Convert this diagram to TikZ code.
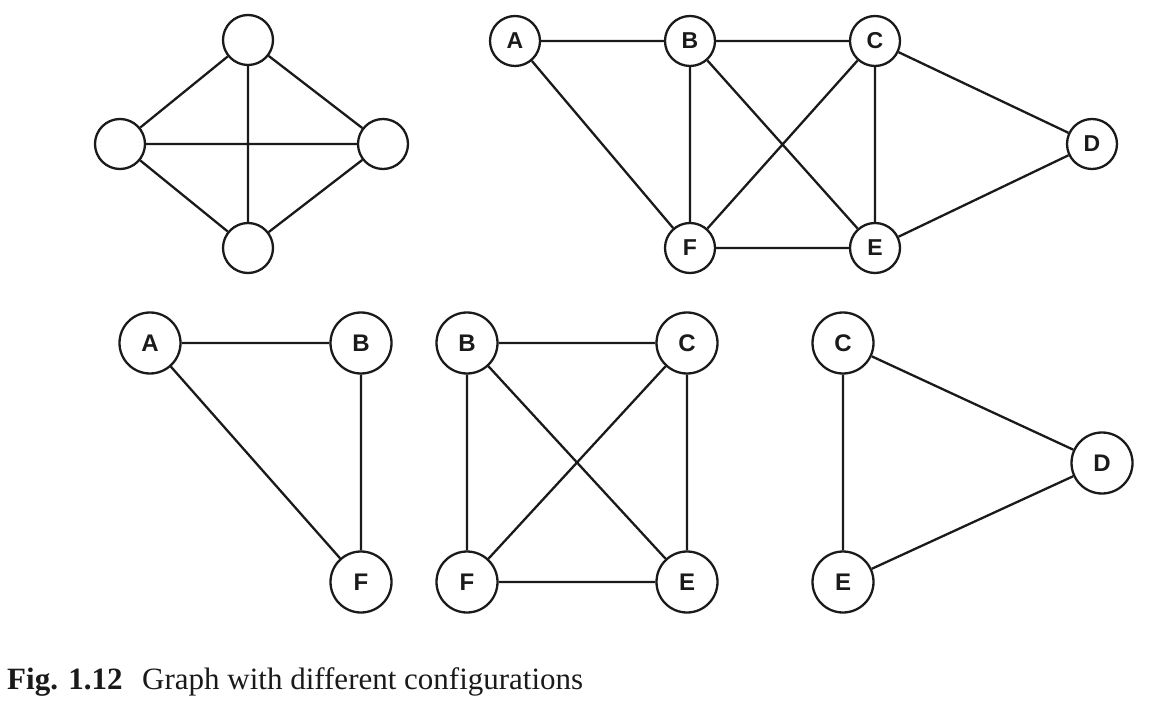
\documentclass[tikz,border=0pt]{standalone}
\usepackage{fontspec}
\setmainfont{Liberation Serif}
\newfontfamily\nodefont{Liberation Sans}
\begin{document}
\begin{tikzpicture}[x=1pt,y=-1pt,
  vsmall/.style={circle,draw=ink,line width=2.3pt,minimum size=50pt,inner sep=0pt,font=\nodefont\bfseries\fontsize{23pt}{23pt}\selectfont,text=ink},
  vbig/.style={circle,draw=ink,line width=2.3pt,minimum size=61pt,inner sep=0pt,font=\nodefont\bfseries\fontsize{24pt}{24pt}\selectfont,text=ink},
  edge/.style={draw=ink,line width=2.3pt}]
\definecolor{ink}{HTML}{1A1A1A}
\useasboundingbox (0,0) rectangle (1150,708);
% top-left K4
\node[vsmall] (kt) at (248,40) {};
\node[vsmall] (kl) at (120,144) {};
\node[vsmall] (kr) at (383,144) {};
\node[vsmall] (kb) at (248,248) {};
\draw[edge] (kt)--(kl) (kt)--(kr) (kt)--(kb) (kl)--(kr) (kl)--(kb) (kr)--(kb);
% top-right graph
\node[vsmall] (a1) at (515,41) {A};
\node[vsmall] (b1) at (690,41) {B};
\node[vsmall] (c1) at (875,41) {C};
\node[vsmall] (d1) at (1092,144) {D};
\node[vsmall] (f1) at (690,248) {F};
\node[vsmall] (e1) at (875,248) {E};
\draw[edge] (a1)--(b1) (a1)--(f1) (b1)--(c1) (b1)--(f1) (b1)--(e1)
  (c1)--(f1) (c1)--(e1) (c1)--(d1) (d1)--(e1) (f1)--(e1);
% bottom-left triangle
\node[vbig] (a2) at (150,343) {A};
\node[vbig] (b2) at (361,343) {B};
\node[vbig] (f2) at (361,582) {F};
\draw[edge] (a2)--(b2) (a2)--(f2) (b2)--(f2);
% bottom-middle K4
\node[vbig] (b3) at (467,343) {B};
\node[vbig] (c3) at (687,343) {C};
\node[vbig] (f3) at (467,582) {F};
\node[vbig] (e3) at (687,582) {E};
\draw[edge] (b3)--(c3) (b3)--(f3) (b3)--(e3) (c3)--(f3) (c3)--(e3) (f3)--(e3);
% bottom-right triangle
\node[vbig] (c4) at (843,343) {C};
\node[vbig] (d4) at (1102,463) {D};
\node[vbig] (e4) at (843,582) {E};
\draw[edge] (c4)--(d4) (c4)--(e4) (d4)--(e4);
% caption
\node[anchor=base west,inner sep=0pt,font=\fontsize{31pt}{31pt}\selectfont\bfseries,text=ink] (figlbl) at (7,689) {Fig. 1.12};
\node[anchor=base west,inner sep=0pt,font=\fontsize{31pt}{31pt}\selectfont,text=ink] (figtxt) at (142,689) {Graph with different configurations};
\end{tikzpicture}
\end{document}
